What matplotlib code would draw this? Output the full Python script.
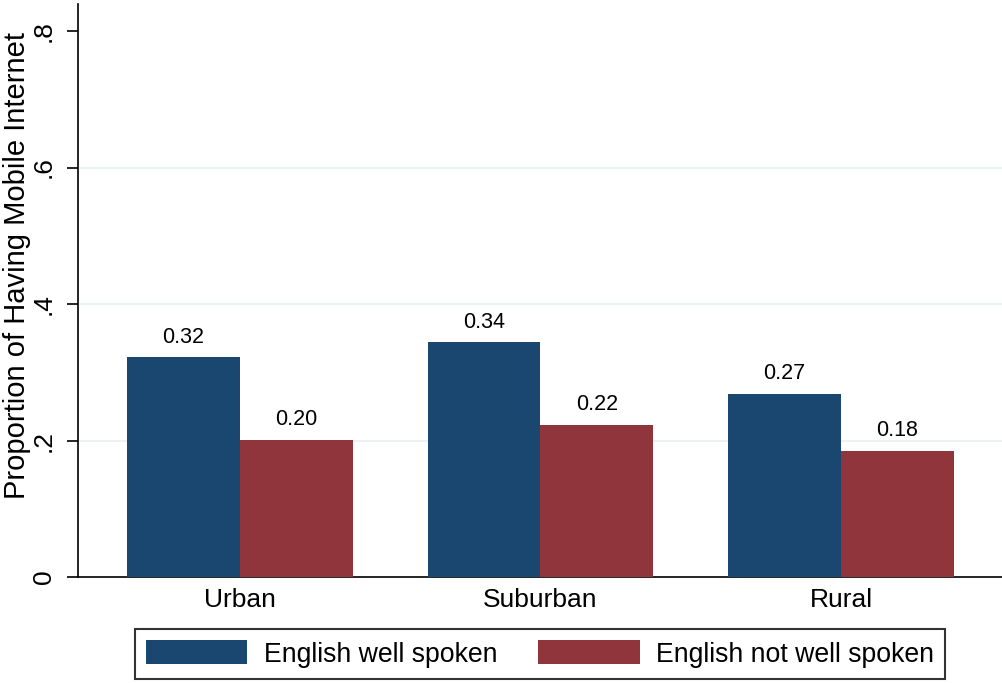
import matplotlib
matplotlib.use("Agg")
import matplotlib.pyplot as plt
import numpy as np

plt.rcParams['font.family'] = ['Liberation Sans', 'DejaVu Sans']

categories = ["Urban", "Suburban", "Rural"]
series_names = ["English well spoken", "English not well spoken"]
well_spoken = [0.322, 0.344, 0.268]
not_well_spoken = [0.201, 0.223, 0.185]
yticks = [0, 0.2, 0.4, 0.6, 0.8]
ytick_labels = ["0", ".2", ".4", ".6", ".8"]
ylabel = "Proportion of Having Mobile Internet"

colors = ["#1a476f", "#90353b"]

fig = plt.figure(figsize=(10.03, 6.83), dpi=100)
ax = fig.add_axes([78/1003, 1-577/683, 1-78/1003, (577-4)/683])

x = np.arange(len(categories))
w = 0.376
b1 = ax.bar(x - w/2, well_spoken, w, color=colors[0], label=series_names[0], zorder=3)
b2 = ax.bar(x + w/2, not_well_spoken, w, color=colors[1], label=series_names[1], zorder=3)
for bars, vals in ((b1, well_spoken), (b2, not_well_spoken)):
    ax.bar_label(bars, labels=[f"{v:.2f}" for v in vals], padding=7, fontsize=15.5)

ax.set_xlim(-0.539, 2.539)
ax.set_ylim(0, 0.8396)
ax.set_yticks(yticks)
ax.set_yticklabels(ytick_labels, rotation=90, va='center', fontsize=19)
for t in yticks[1:-1]:
    ax.axhline(t, color="#eaf2f3", lw=1.5, zorder=1)
ax.set_xticks(x)
ax.set_xticklabels(categories, fontsize=19)
ax.tick_params(axis='x', length=0, pad=8)
ax.tick_params(axis='y', length=8, width=1.2, pad=8)
ax.set_ylabel(ylabel, fontsize=21, va='center')
ax.yaxis.set_label_coords(-0.066, 0.543)

for s in ['top', 'right']:
    ax.spines[s].set_visible(False)
ax.spines['left'].set_linewidth(1.2)
ax.spines['bottom'].set_linewidth(1.2)

leg = fig.legend(handles=[b1, b2], labels=series_names, loc='center',
                 bbox_to_anchor=(540/1003, 1-654/683), ncol=2, fontsize=19.2,
                 frameon=True, fancybox=False, edgecolor='black',
                 handlelength=3.8, handleheight=1.0, handletextpad=0.62,
                 columnspacing=1.55, borderpad=0.42, borderaxespad=0)
leg.get_frame().set_linewidth(1.5)

fig.savefig("out.png", dpi=100)
